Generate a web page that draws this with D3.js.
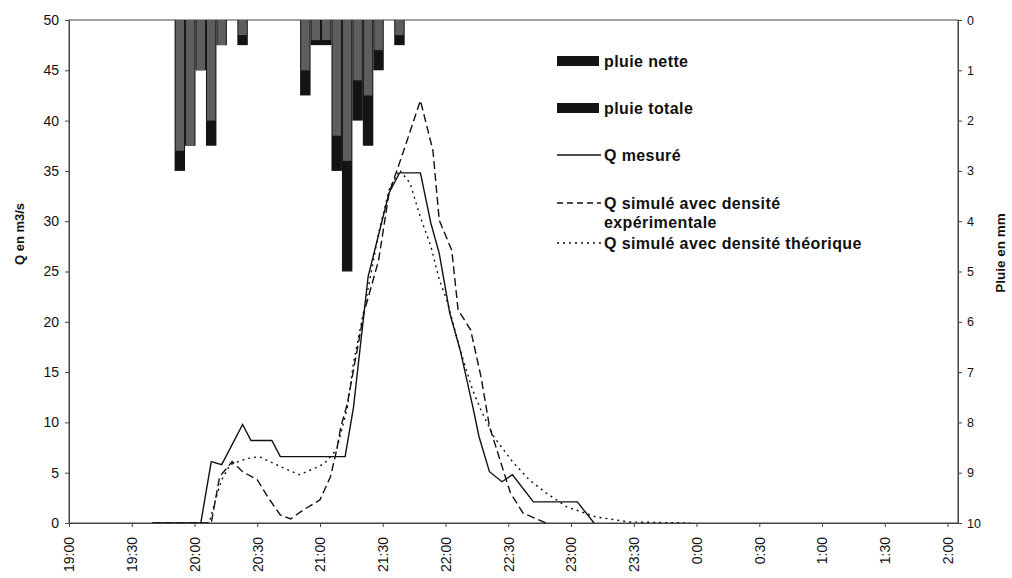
<!DOCTYPE html>
<html>
<head>
<meta charset="utf-8">
<script src="https://cdn.jsdelivr.net/npm/d3@7"></script>
<style>
  body { margin: 0; background: #fff; }
  text { font-family: Arial, "Liberation Sans", sans-serif; }
</style>
</head>
<body>
<div id="chart"></div>
<script>
"use strict";

// rain, 5 minute steps (start of step), in mm
var rainTimes  = ["19:50","19:55","20:00","20:05","20:10","20:20","20:50","20:55","21:00","21:05","21:10","21:15","21:20","21:25","21:35"];
var rainTotale = [3.0, 2.5, 1.0, 2.5, 0.5, 0.5, 1.5, 0.5, 0.5, 3.0, 5.0, 2.0, 2.5, 1.0, 0.5];
var rainNette  = [2.6, 2.5, 1.0, 2.0, 0.5, 0.3, 1.0, 0.4, 0.4, 2.3, 2.8, 1.2, 1.5, 0.6, 0.3];

// Q mesuré (m3/s)
var qMesTimes  = ["19:40","20:03","20:08","20:13","20:23","20:27","20:37","20:41","21:12","21:16","21:23","21:33","21:38","21:48","21:53","21:57","22:02","22:07","22:13","22:16","22:21","22:27","22:32","22:42","23:03","23:11"];
var qMesValues = [0, 0, 6.1, 5.8, 9.8, 8.2, 8.2, 6.6, 6.6, 11.5, 24.5, 32.8, 34.8, 34.8, 29.8, 26.8, 20.9, 17.2, 11.6, 8.6, 5.1, 4.1, 4.8, 2.1, 2.1, 0];

// Q simulé avec densité expérimentale
var qExpTimes  = ["19:40","20:08","20:10","20:12","20:18","20:23","20:30","20:35","20:41","20:46","20:52","21:00","21:05","21:08","21:10","21:13","21:21","21:28","21:33","21:40","21:48","21:54","21:57","22:03","22:06","22:12","22:17","22:21","22:26","22:31","22:37","22:48"];
var qExpValues = [0, 0, 2.3, 4.6, 6.1, 5.1, 4.3, 2.6, 0.8, 0.4, 1.3, 2.3, 4.6, 7.3, 9.6, 11.8, 20.9, 26.1, 32.8, 37, 42, 37, 30.1, 27.1, 21.2, 19.2, 14.5, 9.6, 6.3, 3.0, 1.0, 0];

// Q simulé avec densité théorique
var qTheoTimes  = ["19:40","20:07","20:11","20:13","20:17","20:25","20:31","20:39","20:50","20:57","21:02","21:08","21:13","21:16","21:22","21:28","21:33","21:38","21:43","21:48","21:53","21:57","22:01","22:07","22:13","22:17","22:23","22:32","22:40","22:48","22:58","23:12","23:28","23:57"];
var qTheoValues = [0, 0, 3, 4.3, 5.8, 6.4, 6.6, 5.8, 4.8, 5.4, 5.9, 7.3, 11.4, 15.9, 22.2, 28.8, 33.1, 35.1, 33.8, 30.4, 27.5, 24.2, 21.9, 17.2, 13.2, 11.2, 8.6, 6.1, 4.3, 3.0, 1.6, 0.6, 0.1, 0];

var qTicks = [0, 5, 10, 15, 20, 25, 30, 35, 40, 45, 50];
var rainTicks = [0, 1, 2, 3, 4, 5, 6, 7, 8, 9, 10];

// times after midnight belong to the next day
function parseT(s) {
  var p = s.split(":"), h = +p[0], m = +p[1];
  return new Date(2000, 0, h < 12 ? 2 : 1, h, m);
}

var width = 1012, height = 578;
var plotLeft = 69, plotRight = 958, plotTop = 20, plotBottom = 523;

var svg = d3.select("#chart").append("svg")
    .attr("width", width)
    .attr("height", height);

var x = d3.scaleTime()
    .domain([parseT("19:00"), parseT("2:05")])
    .range([plotLeft, plotRight]);

var y0 = d3.scaleLinear().domain([0, 50]).range([plotBottom, plotTop]);
var y1 = d3.scaleLinear().domain([0, 10]).range([plotTop, plotBottom]);

// plot frame
svg.append("rect")
    .attr("x", plotLeft).attr("y", plotTop)
    .attr("width", plotRight - plotLeft).attr("height", plotBottom - plotTop)
    .attr("fill", "none").attr("stroke", "#444").attr("stroke-width", 1);

// rain bars from the top
var step = 5 * 60000;
var bars = rainTimes.map(function(t, i) {
  return { t: parseT(t), tot: rainTotale[i], net: rainNette[i] };
});

svg.append("g").selectAll("rect")
    .data(bars).enter().append("rect")
    .attr("x", function(d) { return x(d.t) + 1; })
    .attr("width", function(d) { return x(new Date(+d.t + step)) - x(d.t); })
    .attr("y", y1(0))
    .attr("height", function(d) { return y1(d.tot) - y1(0); })
    .attr("fill", "#141414");

svg.append("g").selectAll("rect")
    .data(bars).enter().append("rect")
    .attr("x", function(d) { return x(d.t) + 2; })
    .attr("width", function(d) { return x(new Date(+d.t + step)) - x(d.t) - 2; })
    .attr("y", y1(0))
    .attr("height", function(d) { return y1(d.net) - y1(0); })
    .attr("fill", "#5e5e5e");

// discharge lines
var line = d3.line()
    .x(function(d) { return x(d.t); })
    .y(function(d) { return y0(d.v); });

function series(times, values) {
  return times.map(function(t, i) { return { t: parseT(t), v: values[i] }; });
}

var lines = [
  { data: series(qTheoTimes, qTheoValues), dash: "2,4" },
  { data: series(qExpTimes, qExpValues), dash: "8,4" },
  { data: series(qMesTimes, qMesValues), dash: null }
];

lines.forEach(function(l) {
  svg.append("path")
      .attr("d", line(l.data))
      .attr("fill", "none")
      .attr("stroke", "#111")
      .attr("stroke-width", 1.4)
      .attr("stroke-dasharray", l.dash);
});

// axes
var xAxis = svg.append("g")
    .attr("transform", "translate(0," + plotBottom + ")")
    .call(d3.axisBottom(x)
      .tickValues(d3.timeMinute.every(30).range(parseT("19:00"), parseT("2:01")))
      .tickFormat(d3.timeFormat("%-H:%M"))
      .tickSize(4).tickSizeOuter(0));
xAxis.select(".domain").attr("stroke", "#444");
xAxis.selectAll("line").attr("stroke", "#444");
xAxis.selectAll("text")
    .attr("font-size", 14)
    .attr("fill", "#111")
    .attr("transform", "rotate(-90)")
    .attr("text-anchor", "end")
    .attr("x", -14)
    .attr("y", 0)
    .attr("dy", "0.35em");

var yAxisL = svg.append("g")
    .attr("transform", "translate(" + plotLeft + ",0)")
    .call(d3.axisLeft(y0).tickValues(qTicks).tickSize(4).tickSizeOuter(0));
yAxisL.select(".domain").attr("stroke", "#444");
yAxisL.selectAll("line").attr("stroke", "#444");
yAxisL.selectAll("text").attr("font-size", 14).attr("fill", "#111").attr("x", -10);

var yAxisR = svg.append("g")
    .attr("transform", "translate(" + plotRight + ",0)")
    .call(d3.axisRight(y1).tickValues(rainTicks).tickSize(4).tickSizeOuter(0));
yAxisR.select(".domain").attr("stroke", "#444");
yAxisR.selectAll("line").attr("stroke", "#444");
yAxisR.selectAll("text").attr("font-size", 12.5).attr("fill", "#111").attr("x", 9);

// axis titles
svg.append("text")
    .attr("transform", "translate(24,234) rotate(-90)")
    .attr("text-anchor", "middle")
    .attr("font-size", 13).attr("font-weight", "bold").attr("fill", "#111")
    .text("Q en m3/s");

svg.append("text")
    .attr("transform", "translate(1005,253) rotate(-90)")
    .attr("text-anchor", "middle")
    .attr("font-size", 13.5).attr("font-weight", "bold").attr("fill", "#111")
    .text("Pluie en mm");

// legend
var legend = svg.append("g").attr("transform", "translate(557,0)");
var legendItems = [
  { label: ["pluie nette"], y: 61, kind: "rect" },
  { label: ["pluie totale"], y: 108, kind: "rect" },
  { label: ["Q mesuré"], y: 155, kind: "line", dash: null },
  { label: ["Q simulé avec densité", "expérimentale"], y: 203, kind: "line", dash: "6,4" },
  { label: ["Q simulé avec densité théorique"], y: 243, kind: "line", dash: "2,4" }
];

legendItems.forEach(function(it) {
  if (it.kind === "rect") {
    legend.append("rect")
        .attr("x", 0).attr("y", it.y - 5)
        .attr("width", 42).attr("height", 10)
        .attr("fill", "#141414");
  } else {
    legend.append("line")
        .attr("x1", 0).attr("x2", 44)
        .attr("y1", it.y).attr("y2", it.y)
        .attr("stroke", "#111").attr("stroke-width", 1.4)
        .attr("stroke-dasharray", it.dash);
  }
  it.label.forEach(function(s, j) {
    legend.append("text")
        .attr("x", 47).attr("y", it.y + j * 19)
        .attr("dy", "0.35em")
        .attr("font-size", 16).attr("font-weight", "bold")
        .attr("letter-spacing", 0.4)
        .attr("fill", "#111")
        .text(s);
  });
});
</script>
</body>
</html>
